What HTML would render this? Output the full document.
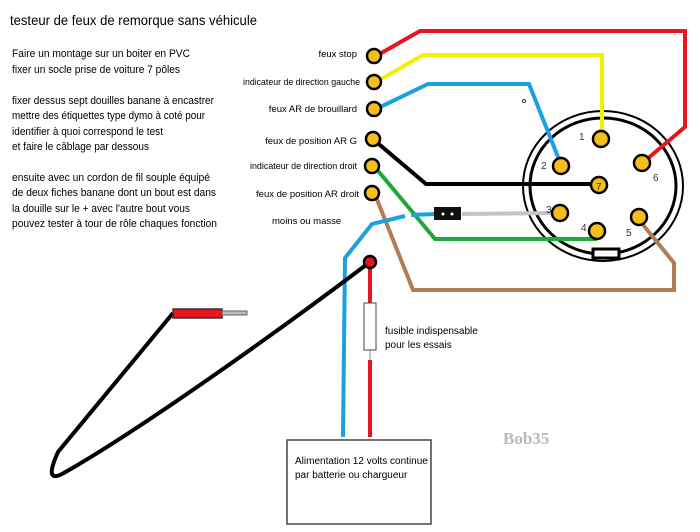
<!DOCTYPE html>
<html><head><meta charset="utf-8"><style>html,body{margin:0;padding:0;background:#fff}svg{display:block}</style></head><body>
<svg width="700" height="532" viewBox="0 0 700 532" xmlns="http://www.w3.org/2000/svg" font-family="Liberation Sans, Arial, sans-serif">
<rect width="700" height="532" fill="#fff"/>
<text x="10" y="25" font-size="14" textLength="247" lengthAdjust="spacingAndGlyphs">testeur de feux de remorque sans véhicule</text>
<g font-size="11">
<text x="12" y="57" textLength="178" lengthAdjust="spacingAndGlyphs">Faire un montage sur un boiter en PVC</text>
<text x="12" y="73" textLength="168" lengthAdjust="spacingAndGlyphs">fixer un socle prise de voiture 7 pôles</text>
<text x="12" y="104" textLength="202" lengthAdjust="spacingAndGlyphs">fixer dessus sept douilles banane à encastrer</text>
<text x="12" y="119" textLength="193" lengthAdjust="spacingAndGlyphs">mettre des étiquettes type dymo à coté pour</text>
<text x="12" y="135" textLength="151" lengthAdjust="spacingAndGlyphs">identifier à quoi correspond le test</text>
<text x="12" y="150" textLength="137" lengthAdjust="spacingAndGlyphs">et faire le câblage par dessous</text>
<text x="12" y="181" textLength="198" lengthAdjust="spacingAndGlyphs">ensuite avec un cordon de fil souple  équipé</text>
<text x="12" y="196" textLength="204" lengthAdjust="spacingAndGlyphs">de  deux fiches banane dont un bout est dans</text>
<text x="12" y="212" textLength="178" lengthAdjust="spacingAndGlyphs">la douille sur le + avec l'autre bout vous</text>
<text x="12" y="227" textLength="205" lengthAdjust="spacingAndGlyphs">pouvez  tester à tour de rôle chaques fonction</text>
</g>
<g font-size="9.5" text-anchor="end">
<text x="357" y="57">feux stop</text>
<text x="360" y="85" textLength="117" lengthAdjust="spacingAndGlyphs">indicateur de direction gauche</text>
<text x="357" y="112">feux AR de brouillard</text>
<text x="357" y="144">feux de position AR G</text>
<text x="357" y="169" textLength="107" lengthAdjust="spacingAndGlyphs">indicateur de direction droit</text>
<text x="359" y="197">feux de position AR droit</text>
</g>
<text x="272" y="224" font-size="9.5">moins ou masse</text>
<ellipse cx="603" cy="186" rx="80" ry="75" fill="none" stroke="#000" stroke-width="2"/>
<ellipse cx="603" cy="186" rx="73" ry="68" fill="none" stroke="#000" stroke-width="3"/>
<rect x="593" y="249" width="26" height="9" fill="#fff" stroke="#000" stroke-width="3"/>
<g fill="none" stroke-width="4" stroke-linejoin="miter">
<polyline points="376,56 420,31 685,31 685,127 646,160" stroke="#e8141e"/>
<polyline points="376,82 423,55 602,55 602,136" stroke="#f5f000"/>
<polyline points="376,109 428,84 529,84 560,162" stroke="#1ba1e2"/>
<polyline points="374,140 426,184 598,184" stroke="#000"/>
<polyline points="374,166 435,239 595,239 595,232" stroke="#1fa83a"/>
<polyline points="374,192 413,290 674,290 674,263 640,221" stroke="#b47c55"/>
<polyline points="435,214 411,215" stroke="#1ba1e2"/>
<polyline points="405,216 372,224 345,258 343,437" stroke="#1ba1e2"/>
<polyline points="462,214 558,213" stroke="#c4c4c4"/>
<polyline points="370,264 370,303" stroke="#e8141e"/>
<polyline points="370,360 370,437" stroke="#e8141e"/>
</g>
<line x1="370" y1="350" x2="370" y2="360" stroke="#888" stroke-width="1"/>
<rect x="434" y="207" width="27" height="13" fill="#111"/>
<circle cx="443" cy="214" r="1.5" fill="#fff"/><circle cx="452" cy="214" r="1.5" fill="#fff"/>
<rect x="364" y="303" width="12" height="47" fill="#fff" stroke="#444" stroke-width="1"/>
<g font-size="10"><text x="385" y="334">fusible indispensable</text><text x="385" y="348">pour les essais</text></g>
<g fill="#f6be1a" stroke="#000" stroke-width="2.5">
<circle cx="374" cy="56" r="7"/><circle cx="374" cy="82" r="7"/><circle cx="374" cy="109" r="7"/>
<circle cx="373" cy="139" r="7"/><circle cx="372" cy="166" r="7"/><circle cx="372" cy="193" r="7"/>
<circle cx="601" cy="139" r="8"/><circle cx="561" cy="166" r="8"/><circle cx="642" cy="163" r="8"/>
<circle cx="599" cy="185" r="8"/><circle cx="560" cy="213" r="8"/><circle cx="597" cy="231" r="8"/><circle cx="639" cy="217" r="8"/>
</g>
<g font-size="10" fill="#333">
<text x="579" y="140">1</text><text x="541" y="169">2</text><text x="653" y="181">6</text><text x="596" y="190">7</text>
<text x="546" y="213">3</text><text x="581" y="231">4</text><text x="626" y="236">5</text>
</g>
<circle cx="524" cy="101" r="1.5" fill="none" stroke="#000" stroke-width="0.8"/>
<path d="M370,262 C280,330 140,430 62,474 C48,481 50,470 58,452 L173,313" fill="none" stroke="#000" stroke-width="4"/>
<circle cx="370" cy="262" r="6" fill="#e8141e" stroke="#000" stroke-width="2.5"/>
<rect x="173" y="309" width="49" height="9" fill="#e8141e" stroke="#333" stroke-width="1.5"/>
<rect x="222" y="311" width="25" height="4" fill="#bbb" stroke="#666" stroke-width="1"/>
<rect x="287" y="440" width="144" height="84" fill="#fff" stroke="#444" stroke-width="1.5"/>
<g font-size="10"><text x="295" y="464">Alimentation 12 volts continue</text><text x="295" y="478">par batterie ou chargueur</text></g>
<text x="503" y="444" font-size="17" font-weight="bold" fill="#b8b8c0" font-family="Liberation Serif, serif">Bob35</text>
</svg>
</body></html>
